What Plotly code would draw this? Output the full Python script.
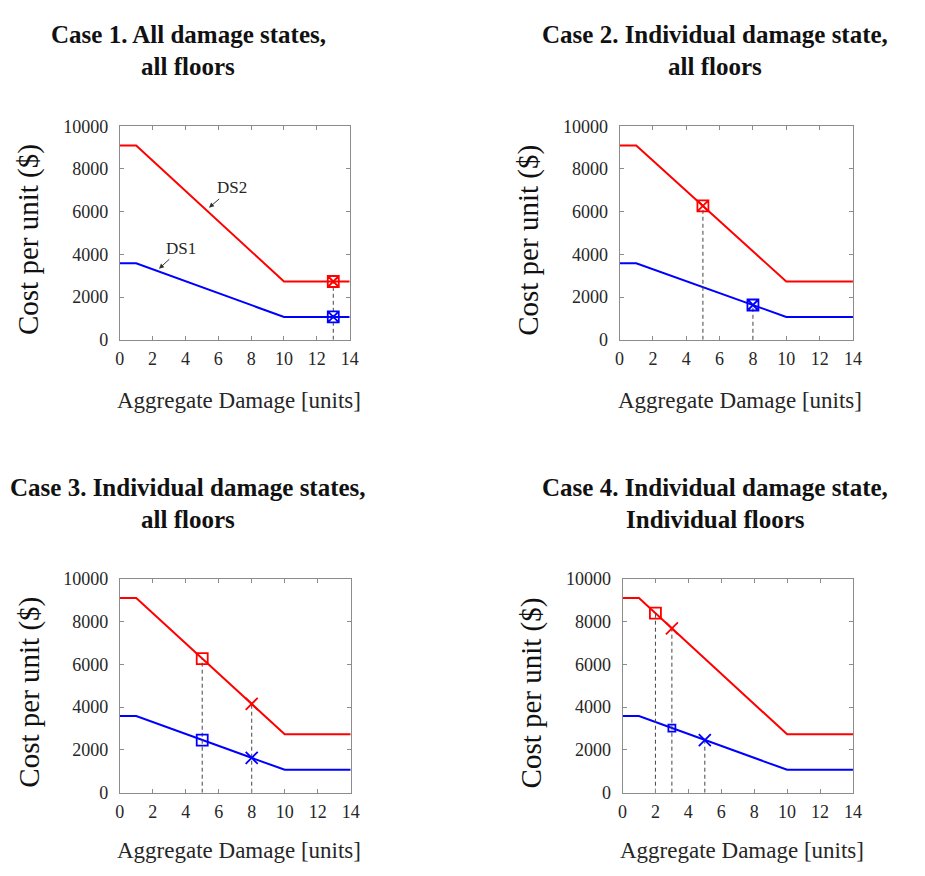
import plotly.graph_objects as go

# ---- data ----
damage_units = [0, 1, 10, 14]
ds2_cost = [9100, 9100, 2730, 2730]
ds1_cost = [3580, 3580, 1070, 1070]

x_ticks = [0, 2, 4, 6, 8, 10, 12, 14]
y_ticks = [0, 2000, 4000, 6000, 8000, 10000]
y_tick_labels = ["0", "2000", "4000", "6000", "8000", "10000"]

title_lines = [
    ("Case 1. All damage states,", "all floors"),
    ("Case 2. Individual damage state,", "all floors"),
    ("Case 3. Individual damage states,", "all floors"),
    ("Case 4. Individual damage state,", "Individual floors"),
]

# markers per case: (x, y, color, symbol, size)
case_markers = [
    [(13, 2730, "red", "square-x-open", 11), (13, 1070, "blue", "square-x-open", 11)],
    [(5, 6270, "red", "square-x-open", 11), (8, 1630, "blue", "square-x-open", 11)],
    [(5, 6270, "red", "square-open", 11), (8, 4150, "red", "x-thin-open", 12),
     (5, 2460, "blue", "square-open", 11), (8, 1630, "blue", "x-thin-open", 12)],
    [(2, 8390, "red", "square-open", 11), (3, 7680, "red", "x-thin-open", 12),
     (3, 3020, "blue", "square-open", 7), (5, 2460, "blue", "x-thin-open", 12)],
]
# vertical dashed guides per case: (x, top y)
case_guides = [
    [(13, 2730)],
    [(5, 6270), (8, 1630)],
    [(5, 6270), (8, 4150)],
    [(2, 8390), (3, 7680), (5, 2460)],
]

# ---- layout geometry (pixels) ----
W, H = 925, 876
panels = [  # x0, x1, ytop, ybottom in pixels
    (116.5, 350, 119, 337.5),
    (624, 861, 119, 337.5),
    (116.5, 351, 582, 801),
    (627, 861, 582, 801),
]
title_centers_y = [(25, 58), (25, 58), (488.5, 521.5), (488.5, 521.5)]
xtitle_y = [400, 400, 860, 860]

SERIF = "Liberation Serif"
fig = go.Figure()
annotations = []

for i, (x0, x1, yt, yb) in enumerate(panels):
    n = "" if i == 0 else str(i + 1)
    xa, ya = "x" + n, "y" + n
    fig.add_trace(go.Scatter(x=damage_units, y=ds2_cost, mode="lines",
                             line=dict(color="#ff0000", width=2),
                             xaxis=xa, yaxis=ya, showlegend=False))
    fig.add_trace(go.Scatter(x=damage_units, y=ds1_cost, mode="lines",
                             line=dict(color="#0000ff", width=2),
                             xaxis=xa, yaxis=ya, showlegend=False))
    for gx, gy in case_guides[i]:
        fig.add_trace(go.Scatter(x=[gx, gx], y=[0, gy], mode="lines",
                                 line=dict(color="#444444", width=1, dash="4px,3px"),
                                 xaxis=xa, yaxis=ya, showlegend=False))
    for mx, my, col, sym, sz in case_markers[i]:
        fig.add_trace(go.Scatter(x=[mx], y=[my], mode="markers",
                                 marker=dict(symbol=sym, size=sz, color=col,
                                             line=dict(color=col, width=1.8)),
                                 xaxis=xa, yaxis=ya, showlegend=False))
    axis_common = dict(showgrid=False, zeroline=False, showline=True,
                       linecolor="#8c8c8c", linewidth=1, mirror="ticks",
                       ticks="inside", ticklen=4, tickcolor="#8c8c8c",
                       tickfont=dict(family=SERIF, size=18, color="#262626"))
    fig.layout["xaxis" + n] = dict(domain=[x0 / W, x1 / W], anchor=ya,
                                   range=[0, 14], tickvals=x_ticks,
                                   ticklabelstandoff=3, **axis_common)
    fig.layout["yaxis" + n] = dict(domain=[1 - yb / H, 1 - yt / H], anchor=xa,
                                   range=[0, 10000], tickvals=y_ticks,
                                   ticktext=y_tick_labels,
                                   ticklabelstandoff=7, **axis_common)

    # panel title (two lines)
    tx = (186 if i % 2 == 0 else 721) / W
    for line_text, cy in zip(title_lines[i], title_centers_y[i]):
        annotations.append(dict(text="<b>" + line_text + "</b>", xref="paper", yref="paper",
                                x=tx, y=1 - cy / H,
                                xanchor="center", yanchor="middle", showarrow=False,
                                font=dict(family=SERIF, size=25, color="#111111")))
    # axis titles
    annotations.append(dict(text="Aggregate Damage [units]", xref="paper", yref="paper",
                            x=((x0 + x1) / 2 + 4) / W, y=1 - xtitle_y[i] / H,
                            xanchor="center", yanchor="middle", showarrow=False,
                            font=dict(family=SERIF, size=23, color="#262626")))
    annotations.append(dict(text="Cost per unit ($)", xref="paper", yref="paper",
                            x=(x0 - 92) / W, y=1 - ((yt + yb) / 2 + 7) / H,
                            xanchor="center", yanchor="middle", showarrow=False,
                            textangle=-90,
                            font=dict(family=SERIF, size=29, color="#111111")))

# DS labels with arrows in case 1
annotations.append(dict(text="DS2", x=5.43, y=6190, ax=6.85, ay=7110,
                        xref="x", yref="y", axref="x", ayref="y",
                        showarrow=True, arrowhead=2, arrowsize=1, arrowwidth=1,
                        arrowcolor="#333333",
                        font=dict(family=SERIF, size=17, color="#262626")))
annotations.append(dict(text="DS1", x=2.39, y=3330, ax=3.75, ay=4290,
                        xref="x", yref="y", axref="x", ayref="y",
                        showarrow=True, arrowhead=2, arrowsize=1, arrowwidth=1,
                        arrowcolor="#333333",
                        font=dict(family=SERIF, size=17, color="#262626")))

fig.update_layout(width=W, height=H, margin=dict(l=0, r=0, t=0, b=0),
                  paper_bgcolor="white", plot_bgcolor="white",
                  annotations=annotations)
fig.write_html("out.html")
